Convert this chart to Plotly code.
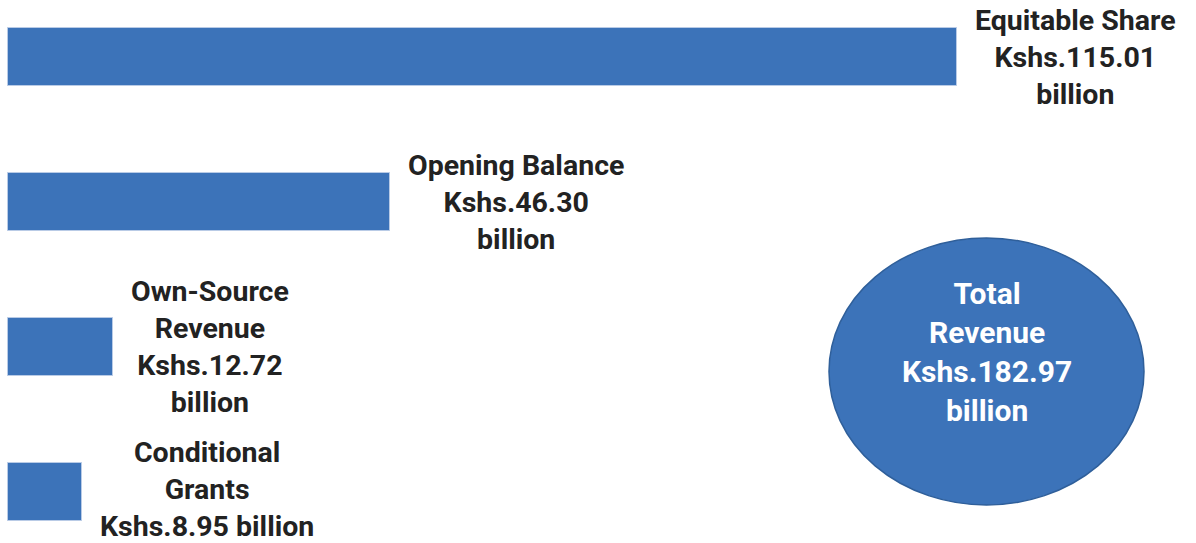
import plotly.graph_objects as go

# Revenue sources (Kshs. billion)
sources = ["Equitable Share", "Opening Balance", "Own-Source Revenue", "Conditional Grants"]
amounts = [115.01, 46.30, 12.72, 8.95]
labels = [
    "Equitable Share<br>Kshs.115.01<br>billion",
    "Opening Balance<br>Kshs.46.30<br>billion",
    "Own-Source<br>Revenue<br>Kshs.12.72<br>billion",
    "Conditional<br>Grants<br>Kshs.8.95 billion",
]
label_yshift = [0, 0, 0, 3]
total_label = "Total<br>Revenue<br>Kshs.182.97<br>billion"

BLUE = "#3c73b9"
TEXT = "#222222"
FONT = "Roboto"

positions = list(range(len(sources)))

fig = go.Figure()
fig.add_trace(go.Bar(
    x=amounts,
    y=positions,
    orientation="h",
    width=0.4,
    marker=dict(color=BLUE, line=dict(color="#b9cbe6", width=1)),
    hoverinfo="skip",
))

for pos, amt, lab, ys in zip(positions, amounts, labels, label_yshift):
    fig.add_annotation(
        x=amt, y=pos, xref="x", yref="y",
        text=lab,
        showarrow=False, xanchor="left", yanchor="middle",
        xshift=16, yshift=ys, align="center",
        font=dict(family=FONT, size=28.5, color=TEXT, weight="bold"),
    )

# Total revenue bubble
fig.add_shape(
    type="circle", xref="paper", yref="paper",
    x0=829 / 1196, x1=1144 / 1196,
    y0=1 - 505 / 543, y1=1 - 238 / 543,
    fillcolor=BLUE, line=dict(color="#2f5f9a", width=1.5),
    layer="below",
)
fig.add_annotation(
    x=986.5 / 1196, y=1 - 351.5 / 543, xref="paper", yref="paper",
    text=total_label,
    showarrow=False, xanchor="center", yanchor="middle", align="center",
    font=dict(family=FONT, size=30, color="white", weight="bold"),
)

fig.update_layout(
    width=1196, height=543,
    margin=dict(l=0, r=0, t=0, b=0),
    paper_bgcolor="white", plot_bgcolor="white",
    showlegend=False,
    xaxis=dict(range=[-8 / 949 * 115.01, 1188 / 949 * 115.01], visible=False, fixedrange=True),
    yaxis=dict(range=[486 / 145, -57 / 145], visible=False, fixedrange=True),
    bargap=0,
)

fig.write_html("out.html")
